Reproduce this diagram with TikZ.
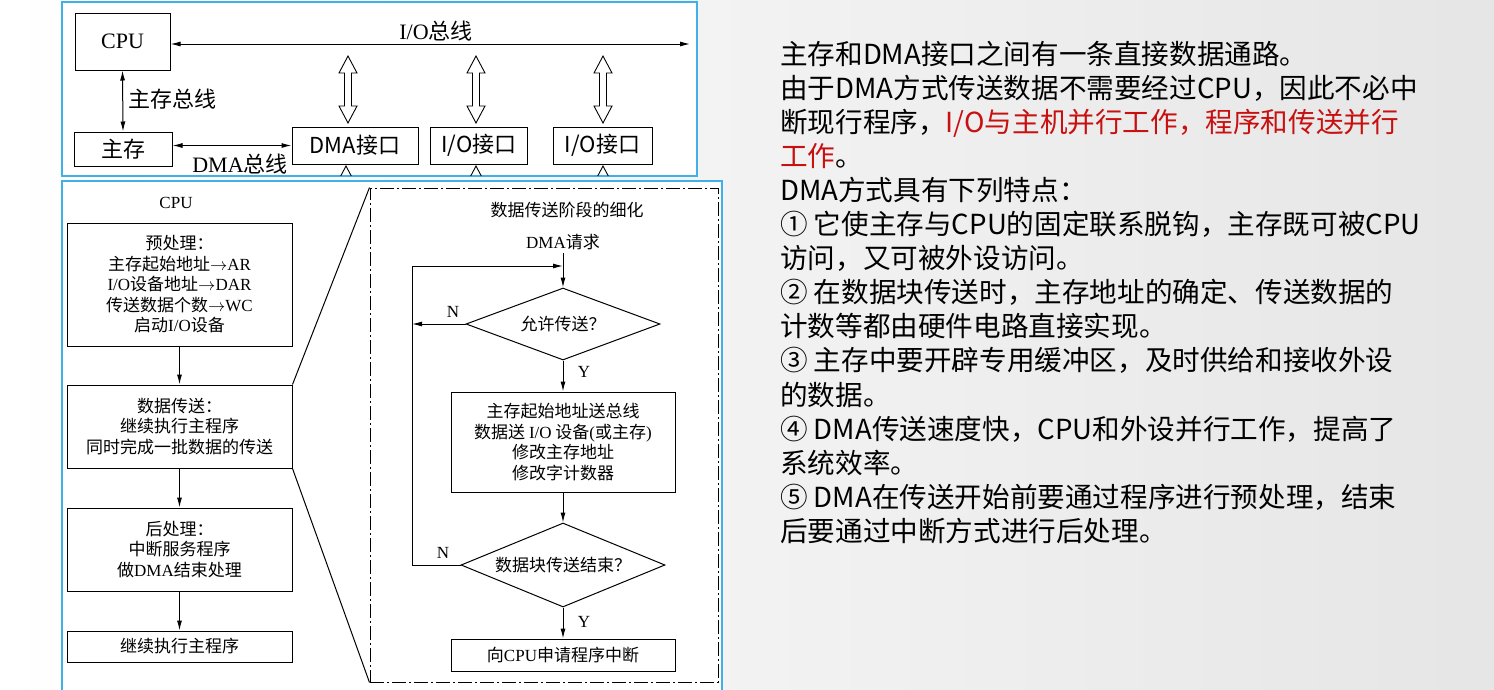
\documentclass[tikz,border=0pt]{standalone}
\usepackage{fontspec}
\setmainfont{Liberation Serif}
\newfontfamily\cjk{Noto Sans CJK SC}
\usetikzlibrary{arrows.meta,positioning,shapes.geometric}
\definecolor{panelblue}{RGB}{64,176,232}
\definecolor{slidered}{RGB}{200,16,16}
\newcommand{\tm}[1]{{\rmfamily #1}}
% hollow double arrow: x, y of upper tip, y of lower tip
\newcommand{\fatarrow}[3]{%
  \draw[line width=0.9pt, fill=white] (#1,#2) -- ++(9,17) -- ++(-5.5,0) -- (#1+3.5,#3-17) -- ++(5.5,0)
    -- (#1,#3) -- ++(-9,-17) -- ++(5.5,0) -- (#1-3.5,#2+17) -- ++(-5.5,0) -- cycle;}

\begin{document}
\begin{tikzpicture}[
  x=1pt, y=-1pt,
  box/.style={draw, line width=1pt, inner sep=2pt, align=center},
  arr/.style={-{Latex[length=10pt,width=5pt]}, line width=1pt},
  biarr/.style={{Latex[length=10pt,width=5pt]}-{Latex[length=10pt,width=5pt]}, line width=1pt},
  frame/.style={draw=panelblue, line width=1.5pt, fill=white},
  top/.style={font=\cjk\fontsize{22}{26}\selectfont},
  flow/.style={font=\cjk\fontsize{17}{20.5}\selectfont, align=center},
  para/.style={font=\cjk\fontsize{27.6}{34}\selectfont, anchor=base west, inner sep=0pt}
]
\useasboundingbox (0,0) rectangle (1494,689);
\shade[left color=white, right color=black!10] (0,0) rectangle (1494,689);

% panels
\draw[frame] (62,2) rectangle (697,176);
\draw[frame] (62,181) rectangle (722,700);

% bus structure
\node[box, top, minimum width=95, minimum height=57] (cpu) at (122.5,41.5) {\tm{CPU}};
\node[box, top, minimum width=98, minimum height=34] (mem) at (123,149) {主存};
\node[box, top, minimum width=126, minimum height=37] (dma) at (355,145.5) {DMA接口};
\node[box, top, minimum width=97, minimum height=37] (io1) at (479,145.5) {I/O接口};
\node[box, top, minimum width=99, minimum height=37] (io2) at (602.5,145.5) {I/O接口};
\coordinate (busR) at (690,44);
\draw[biarr] (cpu.east |- busR) -- (busR);
\node[top] (buslbl) at (436,31) {\tm{I/O}总线};
\draw[biarr] (cpu.south) -- (mem.north);
\node[top, anchor=west] (membus) at (125,99) {主存总线};
\draw[biarr] (mem.east |- dma.west) -- (dma.west);
\node[top] (dmabus) at (240,164) {\tm{DMA}总线};
\fatarrow{348}{56}{123}
\fatarrow{476}{56}{123}
\fatarrow{603}{56}{123}
\foreach \x in {346,476,603}
  \draw[line width=0.9pt] (\x-5.3,176) -- (\x,166) -- (\x+5.3,176);

% CPU side
\node[flow] (cpulbl) at (176,203) {\tm{CPU}};
\node[box, flow, minimum width=225, minimum height=123] (pre) at (179.5,284.5)
  {预处理：\\主存起始地址\tm{$\rightarrow$AR}\\\tm{I/O}设备地址\tm{$\rightarrow$DAR}\\传送数据个数\tm{$\rightarrow$WC}\\启动\tm{I/O}设备};
\node[box, flow, minimum width=225, minimum height=83] (xfer) at (179.5,426.5)
  {数据传送：\\继续执行主程序\\同时完成一批数据的传送};
\node[box, flow, minimum width=225, minimum height=83] (post) at (179.5,549.5)
  {后处理：\\中断服务程序\\做\tm{DMA}结束处理};
\node[box, flow, minimum width=225, minimum height=31] (cont) at (179.5,646.5) {继续执行主程序};
\draw[arr] (pre) -- (xfer);
\draw[arr] (xfer) -- (post);
\draw[arr] (post) -- (cont);

% detail of the transfer phase
\node[draw, line width=1pt, dash pattern=on 14pt off 3pt on 2pt off 3pt,
  minimum width=348, minimum height=494] (detail) at (544,435) {};
\draw[line width=1pt] (xfer.north east) -- (detail.north west);
\draw[line width=1pt] (xfer.south east) -- (detail.south west);
\node[flow] (ttl) at (567,210) {数据传送阶段的细化};
\node[flow] (req) at (563,242) {\tm{DMA}请求};
\node[draw, diamond, aspect=2.7, line width=1pt, inner sep=0pt, flow,
  minimum width=194, minimum height=72] (ok) at (563,324) {允许传送？};
\node[box, flow, minimum width=224, minimum height=100] (proc) at (563,442)
  {主存起始地址送总线\\数据送 \tm{I/O} 设备\tm{(}或主存\tm{)}\\修改主存地址\\修改字计数器};
\node[draw, diamond, aspect=2.43, line width=1pt, inner sep=0pt, flow,
  minimum width=204, minimum height=84] (fin) at (563,565) {数据块传送结束？};
\node[box, flow, minimum width=224, minimum height=32] (irq) at (563,655) {向\tm{CPU}申请程序中断};
\coordinate (loopT) at (412,266);
\coordinate (loopB) at (412,565);
\draw[arr] (req) -- (ok);
\draw[arr] (ok) -- (proc);
\draw[arr] (proc) -- (fin);
\draw[arr] (fin) -- (irq);
\draw[arr] (ok.west) -- (ok.west -| loopT);
\draw[arr] (fin.west) -- (loopB) -- (loopT) -- (loopT -| ok.north);
\node[flow] (n1) at (453,312) {\tm{N}};
\node[flow] (n2) at (443,553) {\tm{N}};
\node[flow] (y1) at (584,372) {\tm{Y}};
\node[flow] (y2) at (584,622) {\tm{Y}};

% notes
\foreach \t [count=\i] in {
  {主存和DMA接口之间有一条直接数据通路。},
  {由于DMA方式传送数据不需要经过CPU，因此不必中},
  {断现行程序，{\color{slidered}I/O与主机并行工作，程序和传送并行}},
  {{\color{slidered}工作}。},
  {DMA方式具有下列特点：},
  {① 它使主存与CPU的固定联系脱钩，主存既可被CPU},
  {访问，又可被外设访问。},
  {② 在数据块传送时，主存地址的确定、传送数据的},
  {计数等都由硬件电路直接实现。},
  {③ 主存中要开辟专用缓冲区，及时供给和接收外设},
  {的数据。},
  {④ DMA传送速度快，CPU和外设并行工作，提高了},
  {系统效率。},
  {⑤ DMA在传送开始前要通过程序进行预处理，结束},
  {后要通过中断方式进行后处理。}}
  \node[para] (ln\i) at (780,{64+34.1*(\i-1)}) {\t};
\end{tikzpicture}
\end{document}
